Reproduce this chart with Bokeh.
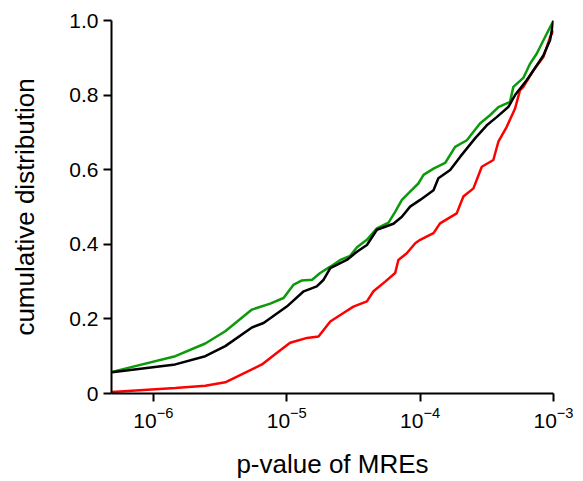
from bokeh.plotting import figure
from bokeh.models import Range1d, FixedTicker, CustomJSTickFormatter
from bokeh.embed import file_html
from bokeh.resources import INLINE

green_x = [4.9e-7, 1.46e-6, 2.45e-6, 3.46e-6, 5.48e-6, 7.52e-6, 9.46e-6, 1.12e-5, 1.30e-5,
           1.55e-5, 1.78e-5, 2.12e-5, 2.52e-5, 2.99e-5, 3.36e-5, 3.99e-5, 4.74e-5, 5.79e-5,
           6.50e-5, 7.30e-5, 8.41e-5, 9.70e-5, 1.06e-4, 1.26e-4, 1.54e-4, 1.83e-4, 2.24e-4,
           2.81e-4, 3.34e-4, 3.86e-4, 4.72e-4, 5.0e-4, 5.94e-4, 6.67e-4, 7.48e-4, 8.63e-4,
           1.0e-3]
green_y = [0.058, 0.10, 0.134, 0.167, 0.225, 0.241, 0.256, 0.291, 0.303,
           0.305, 0.323, 0.340, 0.358, 0.369, 0.392, 0.412, 0.443, 0.458,
           0.487, 0.519, 0.541, 0.563, 0.586, 0.603, 0.618, 0.661, 0.679,
           0.724, 0.746, 0.768, 0.782, 0.822, 0.846, 0.884, 0.911, 0.955,
           1.0]

black_x = [4.9e-7, 1.46e-6, 2.45e-6, 3.46e-6, 5.48e-6, 6.70e-6, 7.52e-6, 1.0e-5, 1.34e-5,
           1.68e-5, 1.89e-5, 2.12e-5, 2.82e-5, 3.36e-5, 3.99e-5, 4.74e-5, 6.31e-5, 7.30e-5,
           8.41e-5, 1.0e-4, 1.26e-4, 1.37e-4, 1.68e-4, 2.0e-4, 2.58e-4, 3.16e-4, 3.75e-4,
           4.58e-4, 5.15e-4, 6.29e-4, 7.06e-4, 8.39e-4, 9.42e-4, 1.0e-3]
black_y = [0.057, 0.078, 0.10, 0.127, 0.177, 0.189, 0.202, 0.233, 0.274,
           0.287, 0.305, 0.336, 0.358, 0.380, 0.398, 0.439, 0.455, 0.474,
           0.501, 0.519, 0.545, 0.577, 0.599, 0.635, 0.684, 0.719, 0.741,
           0.768, 0.80, 0.840, 0.866, 0.906, 0.947, 1.0]

red_x = [4.9e-7, 1.46e-6, 2.45e-6, 3.46e-6, 6.52e-6, 8.45e-6, 9.20e-6, 1.06e-5, 1.42e-5,
         1.73e-5, 2.12e-5, 2.66e-5, 3.16e-5, 3.99e-5, 4.47e-5, 5.47e-5, 6.50e-5, 6.87e-5,
         7.94e-5, 9.19e-5, 1.0e-4, 1.26e-4, 1.41e-4, 1.88e-4, 2.11e-4, 2.51e-4, 2.90e-4,
         3.54e-4, 3.86e-4, 4.46e-4, 5.15e-4, 5.61e-4, 5.94e-4, 7.06e-4, 8.39e-4, 9.42e-4,
         1.0e-3]
red_y = [0.004, 0.015, 0.021, 0.030, 0.078, 0.109, 0.119, 0.136, 0.149,
         0.153, 0.193, 0.216, 0.233, 0.247, 0.274, 0.300, 0.323, 0.358,
         0.376, 0.403, 0.412, 0.430, 0.456, 0.483, 0.528, 0.550, 0.608,
         0.626, 0.675, 0.715, 0.764, 0.813, 0.822, 0.866, 0.902, 0.955,
         0.973]

x_ticks = [1e-6, 1e-5, 1e-4, 1e-3]
y_ticks = [0, 0.2, 0.4, 0.6, 0.8, 1.0]

FONT = "Liberation Sans"

p = figure(width=583, height=481, x_axis_type="log", output_backend="svg",
           toolbar_location=None,
           x_range=Range1d(10 ** -6.314, 1e-3), y_range=Range1d(0, 1))
p.min_border_left = 111
p.min_border_right = 30
p.min_border_top = 20
p.min_border_bottom = 87
p.outline_line_color = None
p.grid.visible = False
p.background_fill_color = "white"
p.border_fill_color = "white"

p.line(red_x, red_y, line_color="#ff0000", line_width=2.5)
p.line(green_x, green_y, line_color="#0a9a0a", line_width=2.5)
p.line(black_x, black_y, line_color="black", line_width=2.5)

for ax in (p.xaxis[0], p.yaxis[0]):
    ax.axis_line_width = 2
    ax.major_tick_line_width = 2
    ax.major_tick_in = 0
    ax.major_tick_out = 8
    ax.minor_tick_line_color = None
    ax.major_label_text_font = FONT
    ax.major_label_text_font_size = "21px"
    ax.major_label_text_color = "black"
    ax.axis_label_text_font = FONT
    ax.axis_label_text_font_size = "26px"
    ax.axis_label_text_font_style = "normal"
    ax.axis_label_text_color = "black"

p.xaxis.ticker = FixedTicker(ticks=x_ticks)
p.yaxis.ticker = FixedTicker(ticks=y_ticks)
p.yaxis.formatter = CustomJSTickFormatter(code="return tick == 0 ? '0' : tick.toFixed(1);")
p.xaxis.axis_label = "p-value of MREs"
p.yaxis.axis_label = "cumulative distribution"
p.xaxis.axis_label_standoff = 18
p.yaxis.axis_label_standoff = 26

open("out.html", "w").write(file_html(p, INLINE))
